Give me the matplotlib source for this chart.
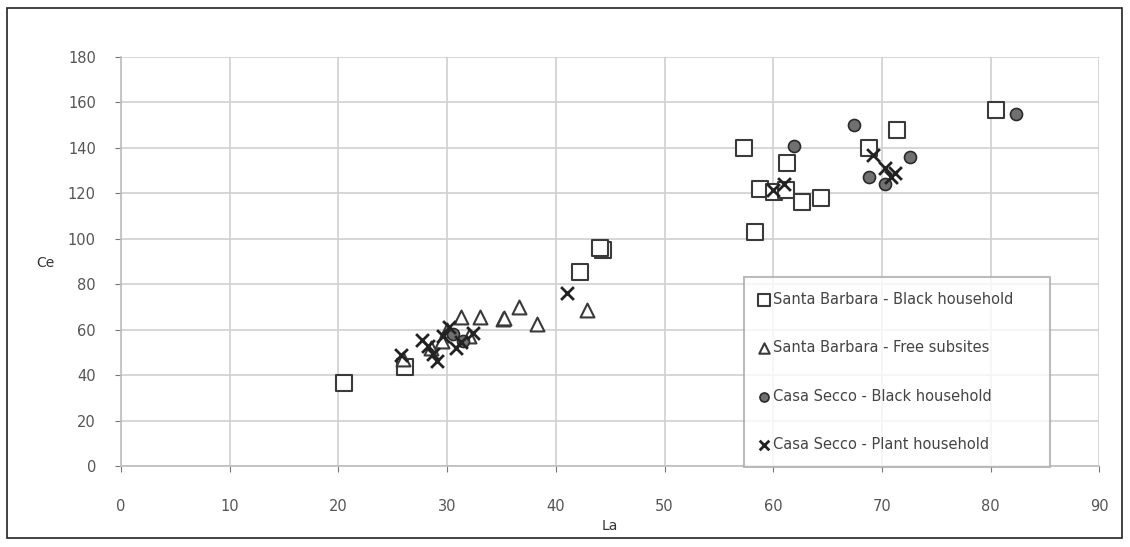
import matplotlib
matplotlib.use("Agg")
import matplotlib.pyplot as plt
from matplotlib.patches import Rectangle

# Santa Barbara - Black household (open squares)
sb_black_la = [20.5, 26.1, 42.2, 44.3, 44.1, 57.3, 58.3, 58.8, 60.1, 61.2, 61.3, 62.6, 64.4, 68.8, 71.4, 80.5]
sb_black_ce = [36.5, 43.6, 85.5, 95.0, 96.0, 140.0, 103.0, 122.0, 120.5, 121.5, 133.4, 116.0, 118.0, 140.0, 148.0, 156.5]

# Santa Barbara - Free subsites (open triangles)
sb_free_la = [25.9, 31.3, 33.0, 35.1, 35.2, 36.6, 38.3, 42.9, 30.0, 32.0, 29.5, 28.5]
sb_free_ce = [47.0, 65.5, 65.5, 64.5, 65.0, 70.0, 62.5, 68.7, 60.0, 57.0, 55.0, 52.0]

# Casa Secco - Black household (filled circles)
cs_black_la = [61.9, 67.4, 68.8, 70.3, 72.6, 82.3, 30.5, 31.5]
cs_black_ce = [141.0, 150.0, 127.0, 124.0, 136.0, 155.0, 58.0, 55.0]

# Casa Secco - Plant household (x markers)
cs_plant_la = [25.8, 27.7, 28.7, 29.1, 29.6, 30.2, 31.3, 32.4, 30.8, 28.2, 41.0, 60.0, 61.0, 69.2, 70.3, 70.8, 71.2]
cs_plant_ce = [49.0, 55.5, 49.5, 46.0, 57.0, 61.0, 54.5, 58.5, 52.0, 53.0, 76.0, 121.5, 124.0, 137.0, 131.0, 127.0, 129.0]

labels = ["Santa Barbara - Black household",
          "Santa Barbara - Free subsites",
          "Casa Secco - Black household",
          "Casa Secco - Plant household"]

x_ticks = list(range(0, 91, 10))
y_ticks = list(range(0, 181, 20))

fig = plt.figure(figsize=(11.3, 5.47), dpi=100)
ax = fig.add_axes([0.107, 0.148, 0.866, 0.748])

ec = "#3a3a3a"
ax.scatter(sb_black_la, sb_black_ce, marker="s", s=130, facecolors="white", edgecolors=ec, linewidths=1.5, label=labels[0], zorder=3)
ax.scatter(sb_free_la, sb_free_ce, marker="^", s=100, facecolors="white", edgecolors=ec, linewidths=1.5, label=labels[1], zorder=3)
ax.scatter(cs_black_la, cs_black_ce, marker="o", s=75, facecolors="#707070", edgecolors="#2a2a2a", linewidths=1.2, label=labels[2], zorder=4)
ax.scatter(cs_plant_la, cs_plant_ce, marker="x", s=85, color="#222222", linewidths=2.0, label=labels[3], zorder=4)

ax.set_xlim(0, 90)
ax.set_ylim(0, 180)
ax.set_xticks(x_ticks)
ax.set_yticks(y_ticks)
ax.grid(True, color="#d0d0d0", linewidth=1.2)
ax.set_axisbelow(True)
for s in ["top", "right"]:
    ax.spines[s].set_visible(False)
for s in ["left", "bottom"]:
    ax.spines[s].set_color("#bdbdbd")
    ax.spines[s].set_linewidth(1.2)
ax.tick_params(colors="#777777", labelcolor="#555555", labelsize=10.5, length=4)
ax.tick_params(axis="x", pad=20)
ax.tick_params(axis="y", pad=14)

ax.set_xlabel("La", fontsize=10, color="#333333", labelpad=3)
ax.set_ylabel("Ce", fontsize=10, color="#333333", rotation=0)
ax.yaxis.set_label_coords(-0.077, 0.48)

leg = ax.legend(loc="upper left", bbox_to_anchor=(0.629, 0.48, 0.328, 0.0), mode="expand", fontsize=10.5,
                frameon=True, fancybox=False, edgecolor="#aaaaaa", labelspacing=2.3, handletextpad=0.2,
                handlelength=0.8, borderpad=1.0, labelcolor="#444444", markerscale=0.75)
leg.get_frame().set_linewidth(1.5)

fig.patches.append(Rectangle((7 / 1130, 9 / 547), 1115 / 1130, 530 / 547, transform=fig.transFigure,
                             fill=False, edgecolor="#222222", linewidth=1.2))

fig.savefig("out.png", dpi=100)
